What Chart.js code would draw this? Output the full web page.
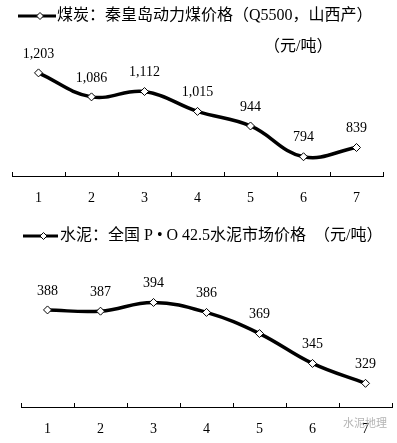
<!DOCTYPE html>
<html lang="zh">
<head>
<meta charset="UTF-8">
<title>煤炭与水泥价格</title>
<script src="https://cdn.jsdelivr.net/npm/chart.js"></script>
<style>
  body { margin: 0; background: #fff; }
  canvas { display: block; }
</style>
</head>
<body>
<canvas id="coalChart" width="397" height="220"></canvas>
<canvas id="cementChart" width="397" height="223"></canvas>
<script>
const months = ['1', '2', '3', '4', '5', '6', '7'];
const coalPrice = [1203, 1086, 1112, 1015, 944, 794, 839];
const cementPrice = [388, 387, 394, 386, 369, 345, 329];

const coalTitle = '煤炭：秦皇岛动力煤价格（Q5500，山西产）';
const coalUnit = '（元/吨）';
const cementTitle = '水泥：全国 P • O 42.5水泥市场价格　（元/吨）';
const watermark = '水泥地理';

const serif = '"Liberation Serif", "Noto Sans CJK SC", serif';

// legend line with diamond + title text, drawn at the top of each canvas
const headerPlugin = {
  id: 'header',
  afterDraw(chart, args, o) {
    const ctx = chart.ctx;
    ctx.save();
    ctx.strokeStyle = '#000';
    ctx.lineWidth = 3;
    ctx.beginPath();
    ctx.moveTo(o.lineFrom, o.y);
    ctx.lineTo(o.lineTo, o.y);
    ctx.stroke();
    const cx = (o.lineFrom + o.lineTo) / 2 + 3, r = 3.5;
    ctx.beginPath();
    ctx.moveTo(cx - r, o.y); ctx.lineTo(cx, o.y - r);
    ctx.lineTo(cx + r, o.y); ctx.lineTo(cx, o.y + r);
    ctx.closePath();
    ctx.fillStyle = '#fff';
    ctx.fill();
    ctx.lineWidth = 1;
    ctx.stroke();

    ctx.fillStyle = '#000';
    ctx.font = '16px ' + serif;
    ctx.textBaseline = 'middle';
    ctx.textAlign = 'left';
    ctx.fillText(o.text, o.textX, o.y);
    if (o.unit) ctx.fillText(o.unit, o.unitX, o.unitY);
    if (o.mark) {
      ctx.fillStyle = '#b4b4b4';
      ctx.font = '11px "Noto Sans CJK SC"';
      ctx.fillText(o.mark, o.markX, o.markY);
    }
    ctx.restore();
  }
};

// value labels above each point
const valueLabels = {
  id: 'valueLabels',
  afterDatasetsDraw(chart, args, o) {
    const ctx = chart.ctx;
    const ds = chart.data.datasets[0];
    ctx.save();
    ctx.fillStyle = '#000';
    ctx.font = '14px ' + serif;
    ctx.textAlign = 'center';
    ctx.textBaseline = 'middle';
    chart.getDatasetMeta(0).data.forEach((pt, i) => {
      ctx.fillText(ds.data[i].toLocaleString('en-US'), pt.x, pt.y - 19);
    });
    ctx.restore();
  }
};

function makeChart(id, values, yMin, yMax, pad, axisHeight, header) {
  return new Chart(document.getElementById(id), {
    type: 'line',
    data: {
      labels: months,
      datasets: [{
        data: values,
        borderColor: '#000',
        borderWidth: 3.5,
        tension: 0.4,
        pointStyle: 'rectRot',
        pointRadius: 4,
        pointBackgroundColor: '#fff',
        pointBorderColor: '#000',
        pointBorderWidth: 1,
        clip: false
      }]
    },
    options: {
      responsive: false,
      animation: false,
      layout: { padding: pad },
      plugins: {
        legend: { display: false },
        tooltip: { enabled: false },
        header: header
      },
      scales: {
        x: {
          offset: true,
          grid: {
            offset: true,
            drawOnChartArea: false,
            color: '#000',
            tickLength: -4
          },
          border: { color: '#000', width: 1 },
          ticks: {
            color: '#000',
            padding: 18,
            font: { family: serif, size: 14 }
          },
          afterFit(scale) { scale.height = axisHeight; }
        },
        y: {
          display: false,
          min: yMin,
          max: yMax
        }
      }
    },
    plugins: [headerPlugin, valueLabels]
  });
}

makeChart('coalChart', coalPrice, 700, 1300,
  { top: 53, left: 12, right: 14, bottom: 0 }, 44,
  { text: coalTitle, unit: coalUnit, y: 16, lineFrom: 18, lineTo: 56, textX: 57, unitX: 264, unitY: 47 });

makeChart('cementChart', cementPrice, 310, 400,
  { top: 75, left: 21, right: 5, bottom: 0 }, 36,
  { text: cementTitle, y: 16, lineFrom: 23, lineTo: 58, textX: 60,
    mark: watermark, markX: 343, markY: 203 });
</script>
</body>
</html>
